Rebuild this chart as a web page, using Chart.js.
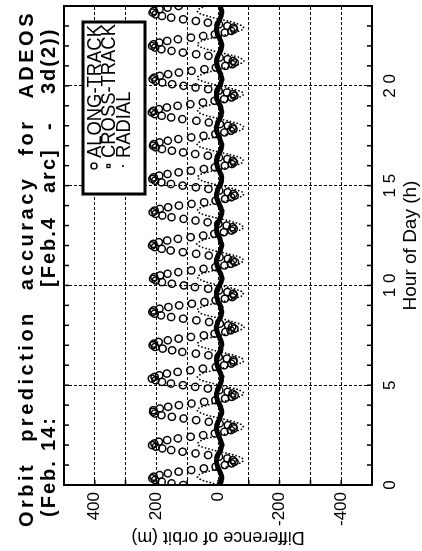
<!DOCTYPE html>
<html>
<head>
<meta charset="utf-8">
<script src="https://cdn.jsdelivr.net/npm/chart.js@4.4.1/dist/chart.umd.min.js"></script>
<style>
  html, body { margin: 0; padding: 0; background: #fff; }
  body { width: 422px; height: 551px; overflow: hidden; position: relative; }
  /* the chart is drawn landscape and turned a quarter turn to the left */
  #wrap { position: absolute; left: 0; top: 0; width: 551px; height: 422px;
          transform-origin: 0 0; transform: translate(0, 551px) rotate(-90deg); }
</style>
</head>
<body>
<div id="wrap"><canvas id="chart" width="551" height="422"></canvas></div>
<script>
const TITLE_WORDS_1 = ['Orbit', 'prediction', 'accuracy', 'for', 'ADEOS'];
const TITLE_WORDS_2 = ['(Feb.', '14:', '[Feb.4', 'arc]', '-', '3d(2))'];
const SERIES_NAMES = ['ALONG-TRACK', 'CROSS-TRACK', 'RADIAL'];
const X_TITLE = 'Hour of Day (h)';
const Y_TITLE = 'Difference of orbit (m)';

// samples every 5 minutes from 0 h to 24 h
const STEP_MIN = 5;
const X_TICKS = [0, 5, 10, 15, 20];
const X_TICK_LABELS = ['0', '5', '1 0', '1 5', '2 0'];
const Y_TICKS = [-500, -400, -300, -200, -100, 0, 100, 200, 300, 400, 500];
const Y_TICK_LABELS = ['', '-400', '', '-200', '', '0', '', '200', '', '400', ''];

// along-track difference (m)
const alongTrack = [
  113,151,183,204,213,209,190,163,128,87,46,8,-22,-44,-53,-48,-30,-3,32,73,
  115,152,181,202,214,207,192,165,130,89,48,10,-21,-42,-51,-49,-32,-5,30,71,
  112,150,184,205,211,210,189,162,127,86,45,9,-23,-45,-54,-47,-31,-4,33,74,
  114,153,182,203,215,206,191,166,131,90,49,7,-20,-43,-50,-50,-29,-2,31,72,
  116,149,180,204,212,208,193,163,128,88,46,11,-24,-41,-53,-46,-33,-6,29,70,
  113,152,185,206,213,209,190,161,126,85,44,8,-22,-46,-52,-49,-30,-3,32,75,
  111,150,182,202,211,207,188,164,129,87,47,9,-21,-42,-55,-48,-32,-5,30,71,
  114,154,183,205,214,210,192,165,130,89,48,12,-19,-44,-51,-47,-28,-1,34,73,
  112,151,181,203,212,206,189,162,127,86,45,8,-23,-43,-54,-50,-31,-4,31,72,
  115,153,184,204,213,209,191,164,128,88,46,10,-22,-45,-52,-48,-30,-3,33,74,
  113,150,182,202,211,208,190,163,129,87,47,9,-21,-42,-50,-47,-32,-6,30,70,
  116,152,183,205,215,210,192,166,131,90,49,11,-20,-44,-53,-49,-29,-2,32,73,
  112,149,181,203,212,207,189,162,127,86,44,7,-24,-46,-54,-48,-31,-5,31,71,
  114,151,184,204,214,209,191,165,130,88,48,10,-22,-43,-52,-50,-30,-3,33,72,
  113,152,182,203,212,208,190,164,128
];

// cross-track difference (m)
const crossTrack = [
  -6,-8,-10,-11,-12,-12,-10,-9,-6,-4,-1,1,3,4,5,5,4,2,0,-2,
  -5,-8,-10,-11,-13,-11,-10,-8,-6,-3,-1,1,3,4,6,4,4,1,0,-3,
  -6,-7,-9,-12,-12,-12,-9,-9,-5,-4,0,2,3,5,5,5,3,2,-1,-2,
  -6,-8,-10,-11,-11,-13,-10,-9,-6,-4,-2,1,3,4,4,5,4,2,0,-2,
  -6,-9,-10,-10,-12,-12,-11,-9,-6,-5,-1,0,3,3,5,6,4,2,1,-2,
  -5,-8,-10,-11,-12,-11,-10,-10,-7,-4,-1,1,2,4,5,5,5,2,0,-1,
  -6,-7,-10,-11,-13,-12,-10,-9,-6,-3,-2,1,3,4,6,5,4,1,0,-2,
  -6,-8,-9,-11,-12,-12,-9,-8,-6,-4,-1,2,4,4,5,4,4,2,-1,-3,
  -6,-8,-10,-12,-12,-13,-10,-9,-5,-4,-1,1,3,5,5,5,3,2,0,-2,
  -5,-9,-10,-11,-11,-12,-11,-9,-6,-4,0,1,3,4,6,5,4,1,0,-2,
  -6,-8,-10,-11,-12,-12,-10,-8,-6,-5,-1,0,3,4,5,6,4,2,1,-2,
  -6,-7,-10,-10,-12,-11,-10,-9,-7,-4,-1,1,4,4,5,5,5,2,0,-1,
  -6,-8,-10,-11,-13,-12,-9,-9,-6,-3,-2,1,3,3,5,5,4,2,0,-2,
  -6,-8,-10,-11,-12,-12,-10,-9,-6,-4,-1,2,3,4,6,4,4,1,0,-3,
  -6,-8,-10,-11,-12,-12,-10,-9,-6
];

// radial difference (m)
const radial = [
  -8,15,36,53,63,67,63,53,36,15,-8,-31,-52,-69,-79,-83,-79,-69,-52,-31,
  -6,17,35,54,64,66,62,52,37,14,-9,-30,-53,-70,-80,-82,-78,-68,-51,-32,
  -9,14,37,52,62,68,64,54,35,16,-7,-32,-51,-68,-78,-84,-80,-70,-53,-30,
  -7,16,36,55,63,67,61,53,36,13,-10,-31,-54,-69,-81,-83,-79,-67,-52,-31,
  -8,15,34,53,65,66,63,51,38,15,-8,-29,-52,-71,-79,-85,-78,-69,-50,-33,
  -10,13,36,54,62,68,64,53,36,16,-6,-31,-53,-69,-80,-82,-81,-68,-52,-30,
  -7,16,38,52,63,67,62,55,35,14,-9,-33,-51,-70,-78,-83,-79,-70,-54,-31,
  -8,15,35,53,64,69,63,52,37,15,-8,-30,-52,-68,-79,-84,-77,-69,-51,-32,
  -9,14,36,54,63,66,65,53,36,17,-7,-31,-54,-69,-81,-83,-80,-67,-52,-30,
  -6,16,37,53,62,67,63,54,34,15,-10,-32,-52,-71,-79,-82,-79,-69,-53,-31,
  -8,15,35,55,64,68,62,52,37,14,-8,-30,-51,-69,-80,-85,-78,-70,-52,-32,
  -7,14,36,52,63,66,64,53,36,16,-9,-31,-53,-68,-78,-83,-80,-68,-50,-31,
  -9,17,37,54,65,67,63,51,35,15,-7,-29,-52,-70,-79,-84,-79,-69,-52,-30,
  -8,15,36,53,63,68,62,54,36,14,-8,-31,-54,-69,-81,-83,-78,-67,-53,-32,
  -7,16,35,53,64,67,63,53,37
];

const FONT = '"Liberation Sans", Arial, Helvetica, sans-serif';
const toPoints = arr => arr.map((v, i) => ({ x: i * STEP_MIN / 60, y: v }));

// frame, inner tick marks, legend box and the widely spaced title
const decor = {
  id: 'decor',
  afterDraw(chart) {
    const { ctx, chartArea: a, scales: { x, y } } = chart;
    ctx.save();
    ctx.strokeStyle = '#000';
    ctx.lineWidth = 2;
    ctx.strokeRect(a.left, a.top, a.right - a.left, a.bottom - a.top);

    ctx.lineWidth = 1.5;
    ctx.beginPath();
    for (let h = 1; h < 24; h++) {
      const px = x.getPixelForValue(h);
      ctx.moveTo(px, a.bottom); ctx.lineTo(px, a.bottom - 5);
      ctx.moveTo(px, a.top); ctx.lineTo(px, a.top + 5);
    }
    Y_TICKS.slice(1, -1).forEach(v => {
      const py = y.getPixelForValue(v);
      ctx.moveTo(a.left, py); ctx.lineTo(a.left + 5, py);
    });
    ctx.stroke();

    // legend
    const lx = 357, ly = 83, lw = 172, lh = 62;
    ctx.fillStyle = '#fff';
    ctx.fillRect(lx, ly, lw, lh);
    ctx.lineWidth = 3;
    ctx.strokeRect(lx, ly, lw, lh);
    ctx.fillStyle = '#000';
    ctx.textBaseline = 'middle';
    ctx.textAlign = 'left';
    SERIES_NAMES.forEach((name, i) => {
      const ry = 94 + i * 14.5;
      ctx.save();
      ctx.translate(393, ry + 1);
      ctx.scale(0.92, 1);
      ctx.font = '20px ' + FONT;
      ctx.fillText(name, 0, 0);
      ctx.restore();
      ctx.lineWidth = 1.3;
      ctx.beginPath();
      if (i === 0) { ctx.arc(385, ry, 3, 0, Math.PI * 2); ctx.stroke(); }
      else if (i === 1) { ctx.strokeRect(383.5, ry - 1.5, 3, 3); }
      else { ctx.arc(385, ry, 1.1, 0, Math.PI * 2); ctx.fill(); }
    });

    // title
    ctx.font = 'bold 20px ' + FONT;
    ctx.textAlign = 'left';
    ctx.textBaseline = 'alphabetic';
    // line 1: tracked letters, spread over the full width
    ctx.letterSpacing = '3.5px';
    const widths = TITLE_WORDS_1.map(w => ctx.measureText(w).width);
    const total = widths.reduce((s, w) => s + w, 0);
    const gap = (541 - 24 - total) / (TITLE_WORDS_1.length - 1);
    let cx = 24;
    TITLE_WORDS_1.forEach((w, i) => { ctx.fillText(w, cx, 33); cx += widths[i] + gap; });
    // line 2: word starts
    ctx.letterSpacing = '2px';
    const starts2 = [34, 100, 264, 358, 421, 457];
    TITLE_WORDS_2.forEach((w, i) => ctx.fillText(w, starts2[i], 55));
    ctx.restore();
  }
};

new Chart(document.getElementById('chart'), {
  type: 'scatter',
  data: {
    datasets: [
      {
        label: SERIES_NAMES[1],
        data: toPoints(crossTrack),
        showLine: true,
        borderColor: '#000',
        borderWidth: 5,
        pointRadius: 0,
        tension: 0.4,
        order: 0,
      },
      {
        label: SERIES_NAMES[2],
        data: toPoints(radial),
        showLine: true,
        borderColor: '#000',
        borderWidth: 1.8,
        borderDash: [0, 3.5],
        borderCapStyle: 'round',
        pointRadius: 0,
        tension: 0.3,
        order: 1,
      },
      {
        label: SERIES_NAMES[0],
        data: toPoints(alongTrack),
        showLine: false,
        pointStyle: 'circle',
        pointRadius: 3.6,
        borderWidth: 1.5,
        borderColor: '#000',
        backgroundColor: 'rgba(255,255,255,0)',
        order: 2,
      },
    ],
  },
  options: {
    responsive: false,
    animation: false,
    layout: { padding: { top: 64, right: 6, left: 0, bottom: 0 } },
    plugins: { legend: { display: false }, tooltip: { enabled: false } },
    scales: {
      x: {
        type: 'linear', min: 0, max: 24,
        afterBuildTicks: s => { s.ticks = X_TICKS.map(v => ({ value: v })); },
        afterFit: s => { s.height = 50; },
        ticks: {
          color: '#000', padding: 8, maxRotation: 0, autoSkip: false,
          font: { family: FONT, size: 17 },
          callback: v => X_TICK_LABELS[X_TICKS.indexOf(v)] ?? '',
        },
        grid: {
          drawTicks: false, lineWidth: 1, dash: [3, 2],
          color: c => (c.tick && c.tick.value > 0 ? '#000' : 'rgba(0,0,0,0)'),
        },
        border: { display: false, dash: [3, 2] },
        title: { display: true, text: X_TITLE, color: '#000', font: { family: FONT, size: 19 }, padding: { top: 0, bottom: 0 } },
      },
      y: {
        type: 'linear', min: -500, max: 500,
        afterBuildTicks: s => { s.ticks = Y_TICKS.map(v => ({ value: v })); },
        afterFit: s => { s.width = 66; },
        ticks: {
          color: '#000', padding: 7, autoSkip: false,
          font: { family: FONT, size: 17 },
          callback: v => Y_TICK_LABELS[Y_TICKS.indexOf(v)] ?? '',
        },
        grid: {
          drawTicks: false, lineWidth: 1, dash: [3, 2],
          color: c => (c.tick && Math.abs(c.tick.value) < 500 ? '#000' : 'rgba(0,0,0,0)'),
        },
        border: { display: false, dash: [3, 2] },
        title: { display: true, text: Y_TITLE, color: '#000', font: { family: FONT, size: 18 }, padding: { top: 3, bottom: 0 } },
      },
    },
  },
  plugins: [decor],
});
</script>
</body>
</html>
